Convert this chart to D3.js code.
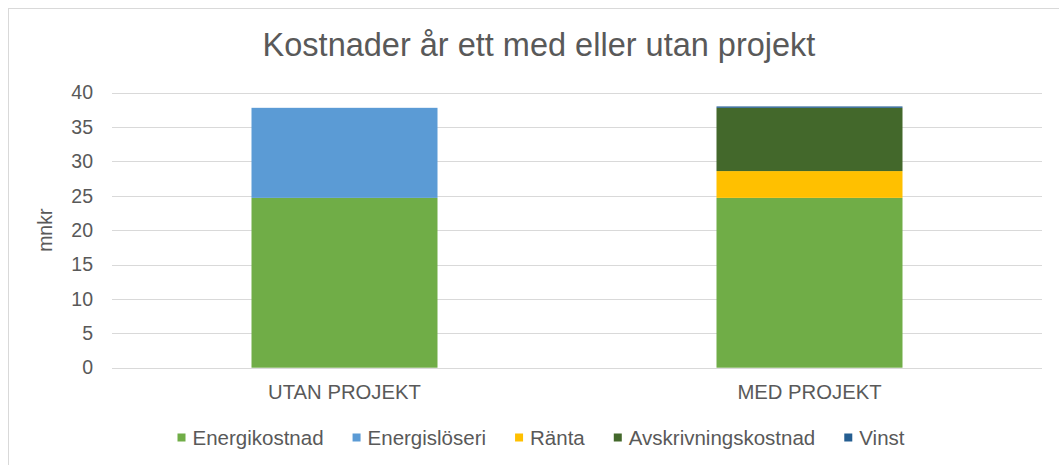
<!DOCTYPE html>
<html>
<head>
<meta charset="utf-8">
<script src="https://cdn.jsdelivr.net/npm/d3@7"></script>
<style>
  body { margin: 0; background: #fff; }
  text { font-family: "Liberation Sans", Arial, sans-serif; fill: #595959; }
</style>
</head>
<body>
<svg id="chart" width="1059" height="465"></svg>
<script>
var categories = ["UTAN PROJEKT", "MED PROJEKT"]
var seriesNames = ["Energikostnad", "Energislöseri", "Ränta", "Avskrivningskostnad", "Vinst"]
var energikostnad = [24.7, 24.7]
var energisloseri = [13.1, 0]
var ranta = [0, 3.9]
var avskrivning = [0, 9.2]
var vinst = [0, 0.2]
var yTicks = [0, 5, 10, 15, 20, 25, 30, 35, 40]
var colors = ["#70ad47", "#5b9bd5", "#ffc000", "#43682b", "#255e91"]

var seriesValues = [energikostnad, energisloseri, ranta, avskrivning, vinst]
var rows = categories.map(function(c, i){
  var row = {category: c}
  seriesNames.forEach(function(name, j){ row[name] = seriesValues[j][i] })
  return row
})

var svg = d3.select("#chart")
var plot = {left: 112, right: 1042, top: 92.7, bottom: 367.7}

// chart frame (right/bottom edges are cut off in the reference)
svg.append("rect")
  .attr("x", 8.5).attr("y", 8.5)
  .attr("width", 1200).attr("height", 600)
  .attr("fill", "none")
  .attr("stroke", "#d9d9d9")

var x = d3.scaleBand()
  .domain(categories)
  .range([plot.left, plot.right])
  .paddingInner(0.6)
  .paddingOuter(0.3)

var y = d3.scaleLinear()
  .domain([0, 40])
  .range([plot.bottom, plot.top])

/* gridlines */
svg.append("g")
  .selectAll("line")
  .data(yTicks)
  .enter().append("line")
    .attr("x1", plot.left)
    .attr("x2", plot.right)
    .attr("y1", function(d){ return Math.round(y(d)) + 0.5 })
    .attr("y2", function(d){ return Math.round(y(d)) + 0.5 })
    .attr("stroke", "#d9d9d9")
    .attr("stroke-width", 1)

/* y axis labels */
var yAxis = d3.axisLeft(y).tickValues(yTicks).tickSize(0).tickPadding(0)
svg.append("g")
  .attr("transform", "translate(93,0)")
  .call(yAxis)
  .call(function(g){ g.select(".domain").remove() })
  .selectAll("text")
    .attr("font-family", "Liberation Sans, Arial, sans-serif")
    .attr("font-size", 19.5)
    .style("fill", "#595959")

svg.append("text")
  .attr("transform", "translate(52," + ((plot.top + plot.bottom) / 2) + ") rotate(-90)")
  .attr("text-anchor", "middle")
  .attr("font-size", 19.5)
  .text("mnkr")

/* stacked bars */
var stack = d3.stack().keys(seriesNames)
var layers = stack(rows)

svg.append("g")
  .selectAll("g")
  .data(layers)
  .enter().append("g")
    .attr("fill", function(d, i){ return colors[i] })
  .selectAll("rect")
  .data(function(d){ return d })
  .enter().append("rect")
    .attr("x", function(d){ return x(d.data.category) })
    .attr("width", x.bandwidth())
    .attr("y", function(d){ return y(d[1]) })
    .attr("height", function(d){ return y(d[0]) - y(d[1]) })

/* category labels */
svg.append("g")
  .selectAll("text")
  .data(categories)
  .enter().append("text")
    .attr("x", function(d){ return x(d) + x.bandwidth() / 2 })
    .attr("y", 399)
    .attr("text-anchor", "middle")
    .attr("font-size", 20.3)
    .text(function(d){ return d })

/* title */
svg.append("text")
  .attr("x", 539)
  .attr("y", 56)
  .attr("text-anchor", "middle")
  .attr("font-size", 32.5)
  .text("Kostnader år ett med eller utan projekt")

/* legend */
var legend = svg.append("g")
var items = legend.selectAll("g")
  .data(seriesNames)
  .enter().append("g")
items.append("rect")
  .attr("width", 8).attr("height", 8)
  .attr("y", 433.5)
  .attr("fill", function(d, i){ return colors[i] })
items.append("text")
  .attr("x", 15)
  .attr("y", 445)
  .attr("font-size", 20.5)
  .text(function(d){ return d })

var offset = 0
items.each(function(){
  var w = d3.select(this).select("text").node().getComputedTextLength()
  d3.select(this).attr("transform", "translate(" + offset + ",0)")
  offset += 15 + w + 29
})
var total = offset - 29
legend.attr("transform", "translate(" + (541 - total / 2) + ",0)")
</script>
</body>
</html>
